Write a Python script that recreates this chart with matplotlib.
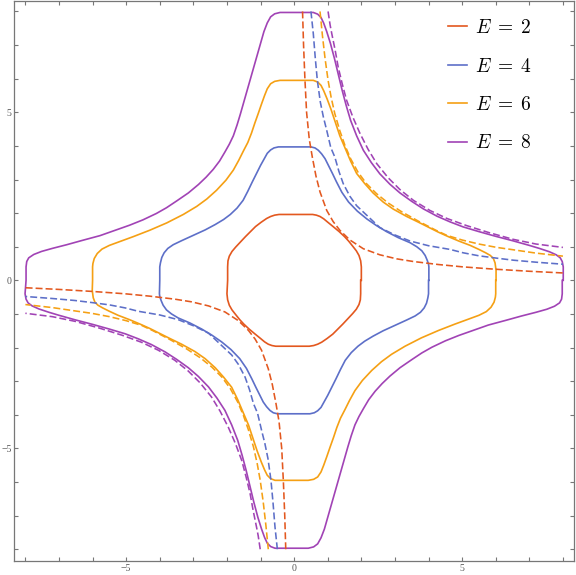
import matplotlib
matplotlib.use("Agg")
import matplotlib.pyplot as plt
import numpy as np

# energy levels shown in the legend
energies = [2, 4, 6, 8]

# closed level curves, upper half only (right side y=0 -> over the top -> left side y=0)
# the lower half is the point reflection (x, y) -> (-x, -y) of these points
e2_x = [2.00, 2.00, 1.98, 1.93, 1.85, 1.74, 1.62, 1.50, 1.34, 1.16, 1.00, 0.88, 0.77, 0.66, 0.55,
        -0.45, -0.58, -0.70, -0.82, -0.98, -1.15, -1.30, -1.45, -1.60, -1.74, -1.85, -1.93,
        -1.97, -1.98, -1.98]
e2_y = [0.00, 0.40, 0.58, 0.74, 0.88, 1.02, 1.17, 1.30, 1.45, 1.60, 1.73, 1.83, 1.90, 1.94, 1.96,
        1.96, 1.94, 1.90, 1.84, 1.73, 1.60, 1.45, 1.30, 1.14, 0.99, 0.86, 0.72,
        0.58, 0.40, 0.00]

e4_x = [4.01, 4.01, 4.00, 3.96, 3.90, 3.80, 3.65, 3.45, 3.10, 2.75, 2.45, 2.16, 1.88, 1.62,
        1.42, 1.26, 1.14, 1.02, 0.92, 0.82, 0.72, 0.62, 0.50,
        -0.47, -0.60, -0.70, -0.80, -0.90, -1.00, -1.12, -1.25, -1.38, -1.52, -1.70, -1.90,
        -2.10, -2.35, -2.65, -3.00, -3.35, -3.60, -3.76, -3.87, -3.94, -3.98, -4.00, -4.00]
e4_y = [0.00, 0.40, 0.48, 0.60, 0.74, 0.88, 1.00, 1.12, 1.27, 1.45, 1.63, 1.83, 2.06, 2.33,
        2.62, 2.93, 3.18, 3.42, 3.62, 3.76, 3.87, 3.94, 3.97,
        3.97, 3.94, 3.88, 3.78, 3.60, 3.42, 3.18, 2.92, 2.65, 2.38, 2.15, 1.96,
        1.81, 1.66, 1.50, 1.34, 1.18, 1.06, 0.95, 0.82, 0.68, 0.52, 0.40, 0.00]

e6_x = [6.01, 6.01, 5.98, 5.93, 5.84, 5.70, 5.50, 5.24, 4.90, 4.59, 4.30, 4.00, 3.70, 3.35,
        2.95, 2.65, 2.35, 2.10, 1.86, 1.68, 1.51, 1.36, 1.22, 1.10, 0.98, 0.88, 0.80, 0.70, 0.57,
        -0.42, -0.58, -0.70, -0.80, -0.88, -0.97, -1.07, -1.17, -1.27, -1.38, -1.51, -1.65,
        -1.81, -2.03, -2.31, -2.60, -2.90, -3.30, -3.79, -4.30, -4.79, -5.20, -5.50, -5.72,
        -5.86, -5.95, -5.99, -6.00, -6.00]
e6_y = [0.00, 0.30, 0.52, 0.65, 0.74, 0.82, 0.92, 1.04, 1.17, 1.30, 1.43, 1.58, 1.73, 1.90,
        2.12, 2.33, 2.60, 2.88, 3.18, 3.55, 3.95, 4.30, 4.72, 5.08, 5.40, 5.64, 5.80, 5.90, 5.95,
        5.95, 5.92, 5.85, 5.70, 5.50, 5.25, 4.96, 4.68, 4.38, 4.10, 3.85, 3.57,
        3.28, 2.98, 2.68, 2.42, 2.20, 1.96, 1.71, 1.49, 1.30, 1.15, 1.04, 0.93,
        0.80, 0.65, 0.50, 0.40, 0.00]

e8_x = [8.01, 8.01, 7.98, 7.92, 7.80, 7.60, 7.30, 7.00, 6.50, 6.00, 5.50, 5.03, 4.64, 4.25,
        3.84, 3.50, 3.15, 2.85, 2.55, 2.30, 2.06, 1.86, 1.68, 1.55, 1.43, 1.32, 1.20, 1.08,
        0.97, 0.88, 0.80, 0.70, 0.57,
        -0.42, -0.58, -0.70, -0.80, -0.90, -1.00, -1.10, -1.20, -1.30, -1.40, -1.50, -1.60,
        -1.70, -1.81, -1.93, -2.06, -2.22, -2.41, -2.62, -2.85, -3.15, -3.50, -3.80, -4.10,
        -4.50, -4.90, -5.35, -5.78, -6.30, -6.77, -7.20, -7.52, -7.75, -7.90, -7.96, -7.98,
        -7.98]
e8_y = [0.00, 0.40, 0.56, 0.67, 0.76, 0.85, 0.95, 1.04, 1.18, 1.31, 1.45, 1.59, 1.74, 1.91,
        2.13, 2.35, 2.60, 2.86, 3.17, 3.50, 3.87, 4.30, 4.76, 5.20, 5.65, 6.10, 6.60, 7.05,
        7.40, 7.65, 7.82, 7.92, 7.97,
        7.97, 7.93, 7.84, 7.66, 7.40, 7.05, 6.70, 6.35, 6.00, 5.65, 5.30, 4.95,
        4.62, 4.30, 4.05, 3.82, 3.55, 3.30, 3.07, 2.85, 2.60, 2.36, 2.16, 1.99,
        1.80, 1.64, 1.48, 1.33, 1.19, 1.06, 0.95, 0.86, 0.77, 0.67, 0.56, 0.40,
        0.00]

# dashed branches in the first quadrant (third quadrant is the point reflection)
d2_x = [0.25, 0.28, 0.32, 0.37, 0.45, 0.54, 0.65, 0.77, 0.97, 1.16, 1.36, 1.66, 2.06, 2.55,
        3.05, 3.55, 4.30, 5.03, 6.00, 7.00, 8.00]
d2_y = [8.00, 7.00, 6.00, 5.00, 4.20, 3.67, 3.10, 2.63, 2.08, 1.75, 1.49, 1.20, 0.94, 0.76,
        0.64, 0.56, 0.47, 0.40, 0.33, 0.27, 0.22]

d4_x = [0.50, 0.57, 0.63, 0.69, 0.78, 0.87, 0.97, 1.09, 1.21, 1.33, 1.46, 1.66, 1.86, 2.20,
        2.55, 3.00, 3.45, 4.00, 4.64, 5.03, 5.50, 6.03, 6.52, 7.20, 8.00]
d4_y = [8.00, 7.34, 6.60, 5.95, 5.30, 4.86, 4.46, 3.95, 3.67, 3.25, 2.88, 2.50, 2.22, 1.90,
        1.57, 1.35, 1.17, 1.03, 0.92, 0.82, 0.73, 0.66, 0.60, 0.54, 0.48]

d6_x = [0.77, 0.84, 0.92, 1.01, 1.10, 1.21, 1.36, 1.51, 1.68, 1.90, 2.15, 2.45, 2.80, 3.20,
        3.70, 4.20, 4.54, 5.00, 5.50, 6.03, 6.52, 7.20, 8.00]
d6_y = [8.00, 7.30, 6.60, 5.95, 5.45, 4.96, 4.45, 4.02, 3.62, 3.22, 2.88, 2.58, 2.30, 2.04,
        1.76, 1.50, 1.34, 1.20, 1.08, 0.98, 0.91, 0.81, 0.72]

d8_x = [1.01, 1.07, 1.12, 1.22, 1.31, 1.43, 1.56, 1.75, 1.96, 2.20, 2.46, 2.80, 3.15, 3.55,
        4.04, 4.55, 5.13, 5.80, 6.52, 7.20, 8.00]
d8_y = [8.00, 7.60, 7.34, 6.85, 6.35, 5.85, 5.36, 4.85, 4.37, 3.90, 3.47, 3.05, 2.70, 2.38,
        2.08, 1.84, 1.63, 1.42, 1.22, 1.08, 0.98]

tick_values = [-5, 0, 5]
tick_labels = [u'\u22125', '0', '5']

solid_x = [e2_x, e4_x, e6_x, e8_x]
solid_y = [e2_y, e4_y, e6_y, e8_y]
dash_x = [d2_x, d4_x, d6_x, d8_x]
dash_y = [d2_y, d4_y, d6_y, d8_y]
colors = ['#E3581F', '#5D6FC8', '#F5A014', '#A143B5']

plt.rcParams['mathtext.fontset'] = 'cm'
plt.rcParams['lines.scale_dashes'] = False

fig = plt.figure(figsize=(5.76, 5.75), dpi=100)
ax = fig.add_axes([14.3 / 576, 14 / 575, 559.7 / 576, 560.3 / 575])

for E, xs, ys, c in zip(energies, solid_x, solid_y, colors):
    x = np.array(xs)
    y = np.array(ys)
    # full closed curve: upper half then its point reflection
    cx = np.concatenate([x, -x[1:]])
    cy = np.concatenate([y, -y[1:]])
    ax.plot(cx, cy, color=c, lw=1.2, label=r'$E\;=\;%d$' % E, zorder=2,
            solid_joinstyle='round')

for xs, ys, c in zip(dash_x, dash_y, colors):
    x = np.array(xs)
    y = np.array(ys)
    ax.plot(x, y, color=c, lw=1.15, ls=(0, (5, 2.2)), zorder=3)
    ax.plot(-x, -y, color=c, lw=1.15, ls=(0, (5, 2.2)), zorder=3)

ax.set_xlim(-8.33, 8.33)
ax.set_ylim(-8.35, 8.32)

ax.set_xticks(tick_values)
ax.set_yticks(tick_values)
ax.set_xticklabels(tick_labels)
ax.set_yticklabels(tick_labels)
ax.set_xticks(np.arange(-8, 9), minor=True)
ax.set_yticks(np.arange(-8, 9), minor=True)
ax.tick_params(which='both', direction='in', top=True, right=True, length=3,
               width=0.8, color='#777777', labelsize=7, labelcolor='#555555', pad=2)
for lab in ax.get_xticklabels() + ax.get_yticklabels():
    lab.set_family('Liberation Serif')
for sp in ax.spines.values():
    sp.set_color('#777777')
    sp.set_linewidth(0.9)

leg = ax.legend(loc='upper left', bbox_to_anchor=(0.775, 0.969), frameon=False,
                fontsize=14, handlelength=0.95, handletextpad=0.45, labelspacing=1.0,
                borderpad=0, borderaxespad=0)

fig.savefig('out.png', dpi=100)
